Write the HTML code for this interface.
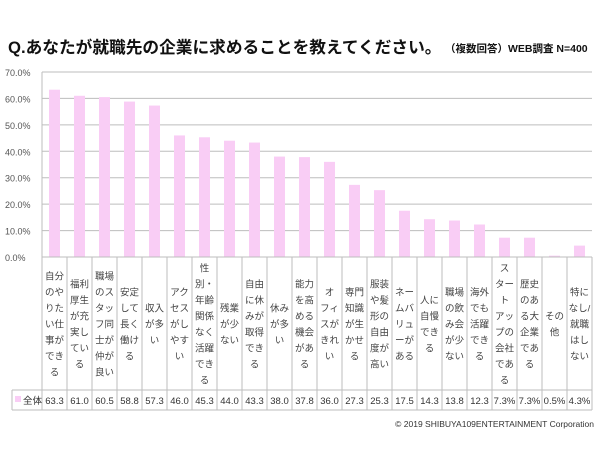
<!DOCTYPE html>
<html><head><meta charset="utf-8"><style>
body{margin:0;background:#fff;width:600px;height:450px;overflow:hidden;font-family:"Liberation Sans","Noto Sans CJK JP",sans-serif}
svg text{font-family:"Liberation Sans","Noto Sans CJK JP",sans-serif}
</style></head><body>
<svg id="c" width="600" height="450" xmlns="http://www.w3.org/2000/svg">
<text x="8" y="53" font-size="16.7" font-weight="bold" fill="#111">Q.あなたが就職先の企業に求めることを教えてください。</text>
<text x="445" y="52" font-size="10.5" font-weight="bold" fill="#111">（複数回答）WEB調査 N=400</text>
<text x="594" y="427" font-size="8.5" text-anchor="end" fill="#333">© 2019 SHIBUYA109ENTERTAINMENT  Corporation</text>
</svg>
<script>
const categories=["自分/のや/りた/い仕/事が/でき/る","福利/厚生/が充/実し/てい/る","職場/のス/タッ/フ同/士が/仲が/良い","安定/して/長く/働け/る","収入/が多/い","アク/セス/がし/やす/い","性/別・/年齢/関係/なく/活躍/でき/る","残業/が少/ない","自由/に休/みが/取得/でき/る","休み/が多/い","能力/を高/める/機会/があ/る","オ/フィ/スが/きれ/い","専門/知識/が生/かせ/る","服装/や髪/形の/自由/度が/高い","ネー/ムバ/リュ/ーが/ある","人に/自慢/でき/る","職場/の飲/み会/が少/ない","海外/でも/活躍/でき/る","ス/ター/ト/アッ/プの/会社/であ/る","歴史/のあ/る大/企業/であ/る","その/他","特に/なし|/就職/はし/ない"];
const values=[63.3,61.0,60.5,58.8,57.3,46.0,45.3,44.0,43.3,38.0,37.8,36.0,27.3,25.3,17.5,14.3,13.8,12.3,7.3,7.3,0.5,4.3];
const valueLabels=["63.3","61.0","60.5","58.8","57.3","46.0","45.3","44.0","43.3","38.0","37.8","36.0","27.3","25.3","17.5","14.3","13.8","12.3","7.3%","7.3%","0.5%","4.3%"];
const yTicks=[0,10,20,30,40,50,60,70];
const svg=document.getElementById('c');const NS='http://www.w3.org/2000/svg';
const X0=42,CW=25,Y0=257,YT=72,YMAX=70;
const y=v=>Y0-(v/YMAX)*(Y0-YT);
const x=i=>X0+i*CW;
const XR=x(categories.length);
function mk(t,a,p){const e=document.createElementNS(NS,t);for(const k in a)e.setAttribute(k,a[k]);(p||svg).appendChild(e);return e;}
yTicks.forEach(t=>{
 const l=mk('line',{x1:X0,x2:XR,y1:y(t),y2:y(t),stroke:'#bdbdbd','stroke-width':1});
 
 
 const tx=mk('text',{x:5,y:y(t)+4,'font-size':9,fill:'#555'});tx.textContent=t.toFixed(1)+'%';
 
 
});
const ax=mk('line',{x1:X0,x2:X0,y1:YT,y2:Y0,stroke:'#bdbdbd'});


values.forEach((v,i)=>{
 const b=mk('rect',{x:x(i)+7,y:y(v),width:11,height:Y0-y(v),fill:'#f9cdf5'});
 
 
});
const TB=390,TE=410;
const g=mk('g',{stroke:'#bdbdbd','stroke-width':1,fill:'none'});


mk('line',{x1:12,x2:XR,y1:TB,y2:TB},g);
mk('line',{x1:12,x2:XR,y1:TE,y2:TE},g);
mk('line',{x1:12,x2:12,y1:TB,y2:TE},g);
for(let i=0;i<=categories.length;i++)mk('line',{x1:x(i),x2:x(i),y1:Y0,y2:TE},g);
mk('line',{x1:X0,x2:XR,y1:Y0,y2:Y0},g);
const lg=mk('rect',{x:15,y:396,width:6,height:6,fill:'#f9cdf5'});


const lt=mk('text',{x:23,y:404,'font-size':9.5,fill:'#333'});lt.textContent='全体';


categories.forEach((c,i)=>{
 const lines=c.split('/').map(s=>s.replace('|','/'));
 const cx=x(i)+CW/2,LH=16,mid=(Y0+TB)/2;
 const start=mid-(lines.length-1)*LH/2+4;
 const t=mk('text',{'font-size':9.5,fill:'#444','text-anchor':'middle'});
 
 
 lines.forEach((s,j)=>{const ts=mk('tspan',{x:cx,y:start+j*LH},t);ts.textContent=s;});
 const vt=mk('text',{x:cx,y:404,'font-size':9.5,fill:'#333','text-anchor':'middle'});vt.textContent=valueLabels[i];
 
 
});
</script>
</body></html>
